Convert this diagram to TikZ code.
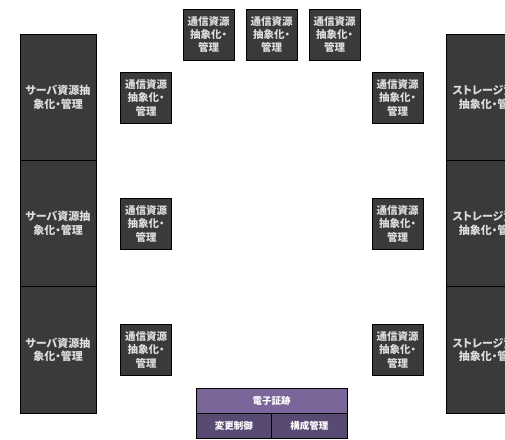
\documentclass[tikz,border=0pt]{standalone}
\usepackage{fontspec}
\setmainfont{Noto Sans CJK JP}[RawFeature=+palt]
\begin{document}
\begin{tikzpicture}[x=1pt,y=-1pt,
  darkbox/.style={draw=black, line width=0.8pt, fill=boxgray, text=txtgray, inner sep=0pt, align=center, font=\fontsize{10.5}{13.2}\selectfont\bfseries},
  bigbox/.style={darkbox, minimum width=76pt, minimum height=126.3pt, font=\fontsize{11}{13.5}\selectfont\bfseries},
  rbigbox/.style={darkbox, minimum width=86pt, minimum height=126.3pt, font=\fontsize{11}{13.5}\selectfont\bfseries},
  smallbox/.style={darkbox, minimum width=51pt, minimum height=51pt},
  topcell/.style={draw=black, line width=0.8pt, fill=purpletop, text=white, inner sep=0pt, font=\fontsize{9.5}{12}\selectfont\bfseries, minimum width=151pt, minimum height=25pt},
  botcell/.style={draw=black, line width=0.8pt, fill=purplebot, text=white, inner sep=0pt, font=\fontsize{9.5}{12}\selectfont\bfseries, minimum width=75.5pt, minimum height=25pt}]
\definecolor{boxgray}{HTML}{3A3A3C}
\definecolor{txtgray}{HTML}{DCDCDC}
\definecolor{purpletop}{HTML}{7A6698}
\definecolor{purplebot}{HTML}{594A74}
\useasboundingbox (0,0) rectangle (505,439);
\clip (0,0) rectangle (505,439);
% left column
\node[bigbox] (l1) at (58,97.2) {サーバ資源抽\\象化・管理};
\node[bigbox] (l2) at (58,223.5) {サーバ資源抽\\象化・管理};
\node[bigbox] (l3) at (58,349.8) {サーバ資源抽\\象化・管理};
% right column (cut off by the picture's right edge, as in the reference)
\node[rbigbox] (r1) at (489,97.2) {ストレージ資源\\抽象化・管理};
\node[rbigbox] (r2) at (489,223.5) {ストレージ資源\\抽象化・管理};
\node[rbigbox] (r3) at (489,349.8) {ストレージ資源\\抽象化・管理};
% top small boxes
\node[smallbox] (t1) at (208.5,34.5) {通信資源\\抽象化・\\管理};
\node[smallbox] (t2) at (271.5,34.5) {通信資源\\抽象化・\\管理};
\node[smallbox] (t3) at (334.5,34.5) {通信資源\\抽象化・\\管理};
% left small boxes
\node[smallbox] (sl1) at (146,98) {通信資源\\抽象化・\\管理};
\node[smallbox] (sl2) at (146,224) {通信資源\\抽象化・\\管理};
\node[smallbox] (sl3) at (146,350) {通信資源\\抽象化・\\管理};
% right small boxes
\node[smallbox] (sr1) at (397.5,98) {通信資源\\抽象化・\\管理};
\node[smallbox] (sr2) at (397.5,224) {通信資源\\抽象化・\\管理};
\node[smallbox] (sr3) at (397.5,350) {通信資源\\抽象化・\\管理};
% bottom purple box
\node[topcell] (ev) at (271.5,400.5) {電子証跡};
\node[botcell] (cc) at (233.75,425.5) {変更制御};
\node[botcell] (cm) at (309.25,425.5) {構成管理};
\end{tikzpicture}
\end{document}
